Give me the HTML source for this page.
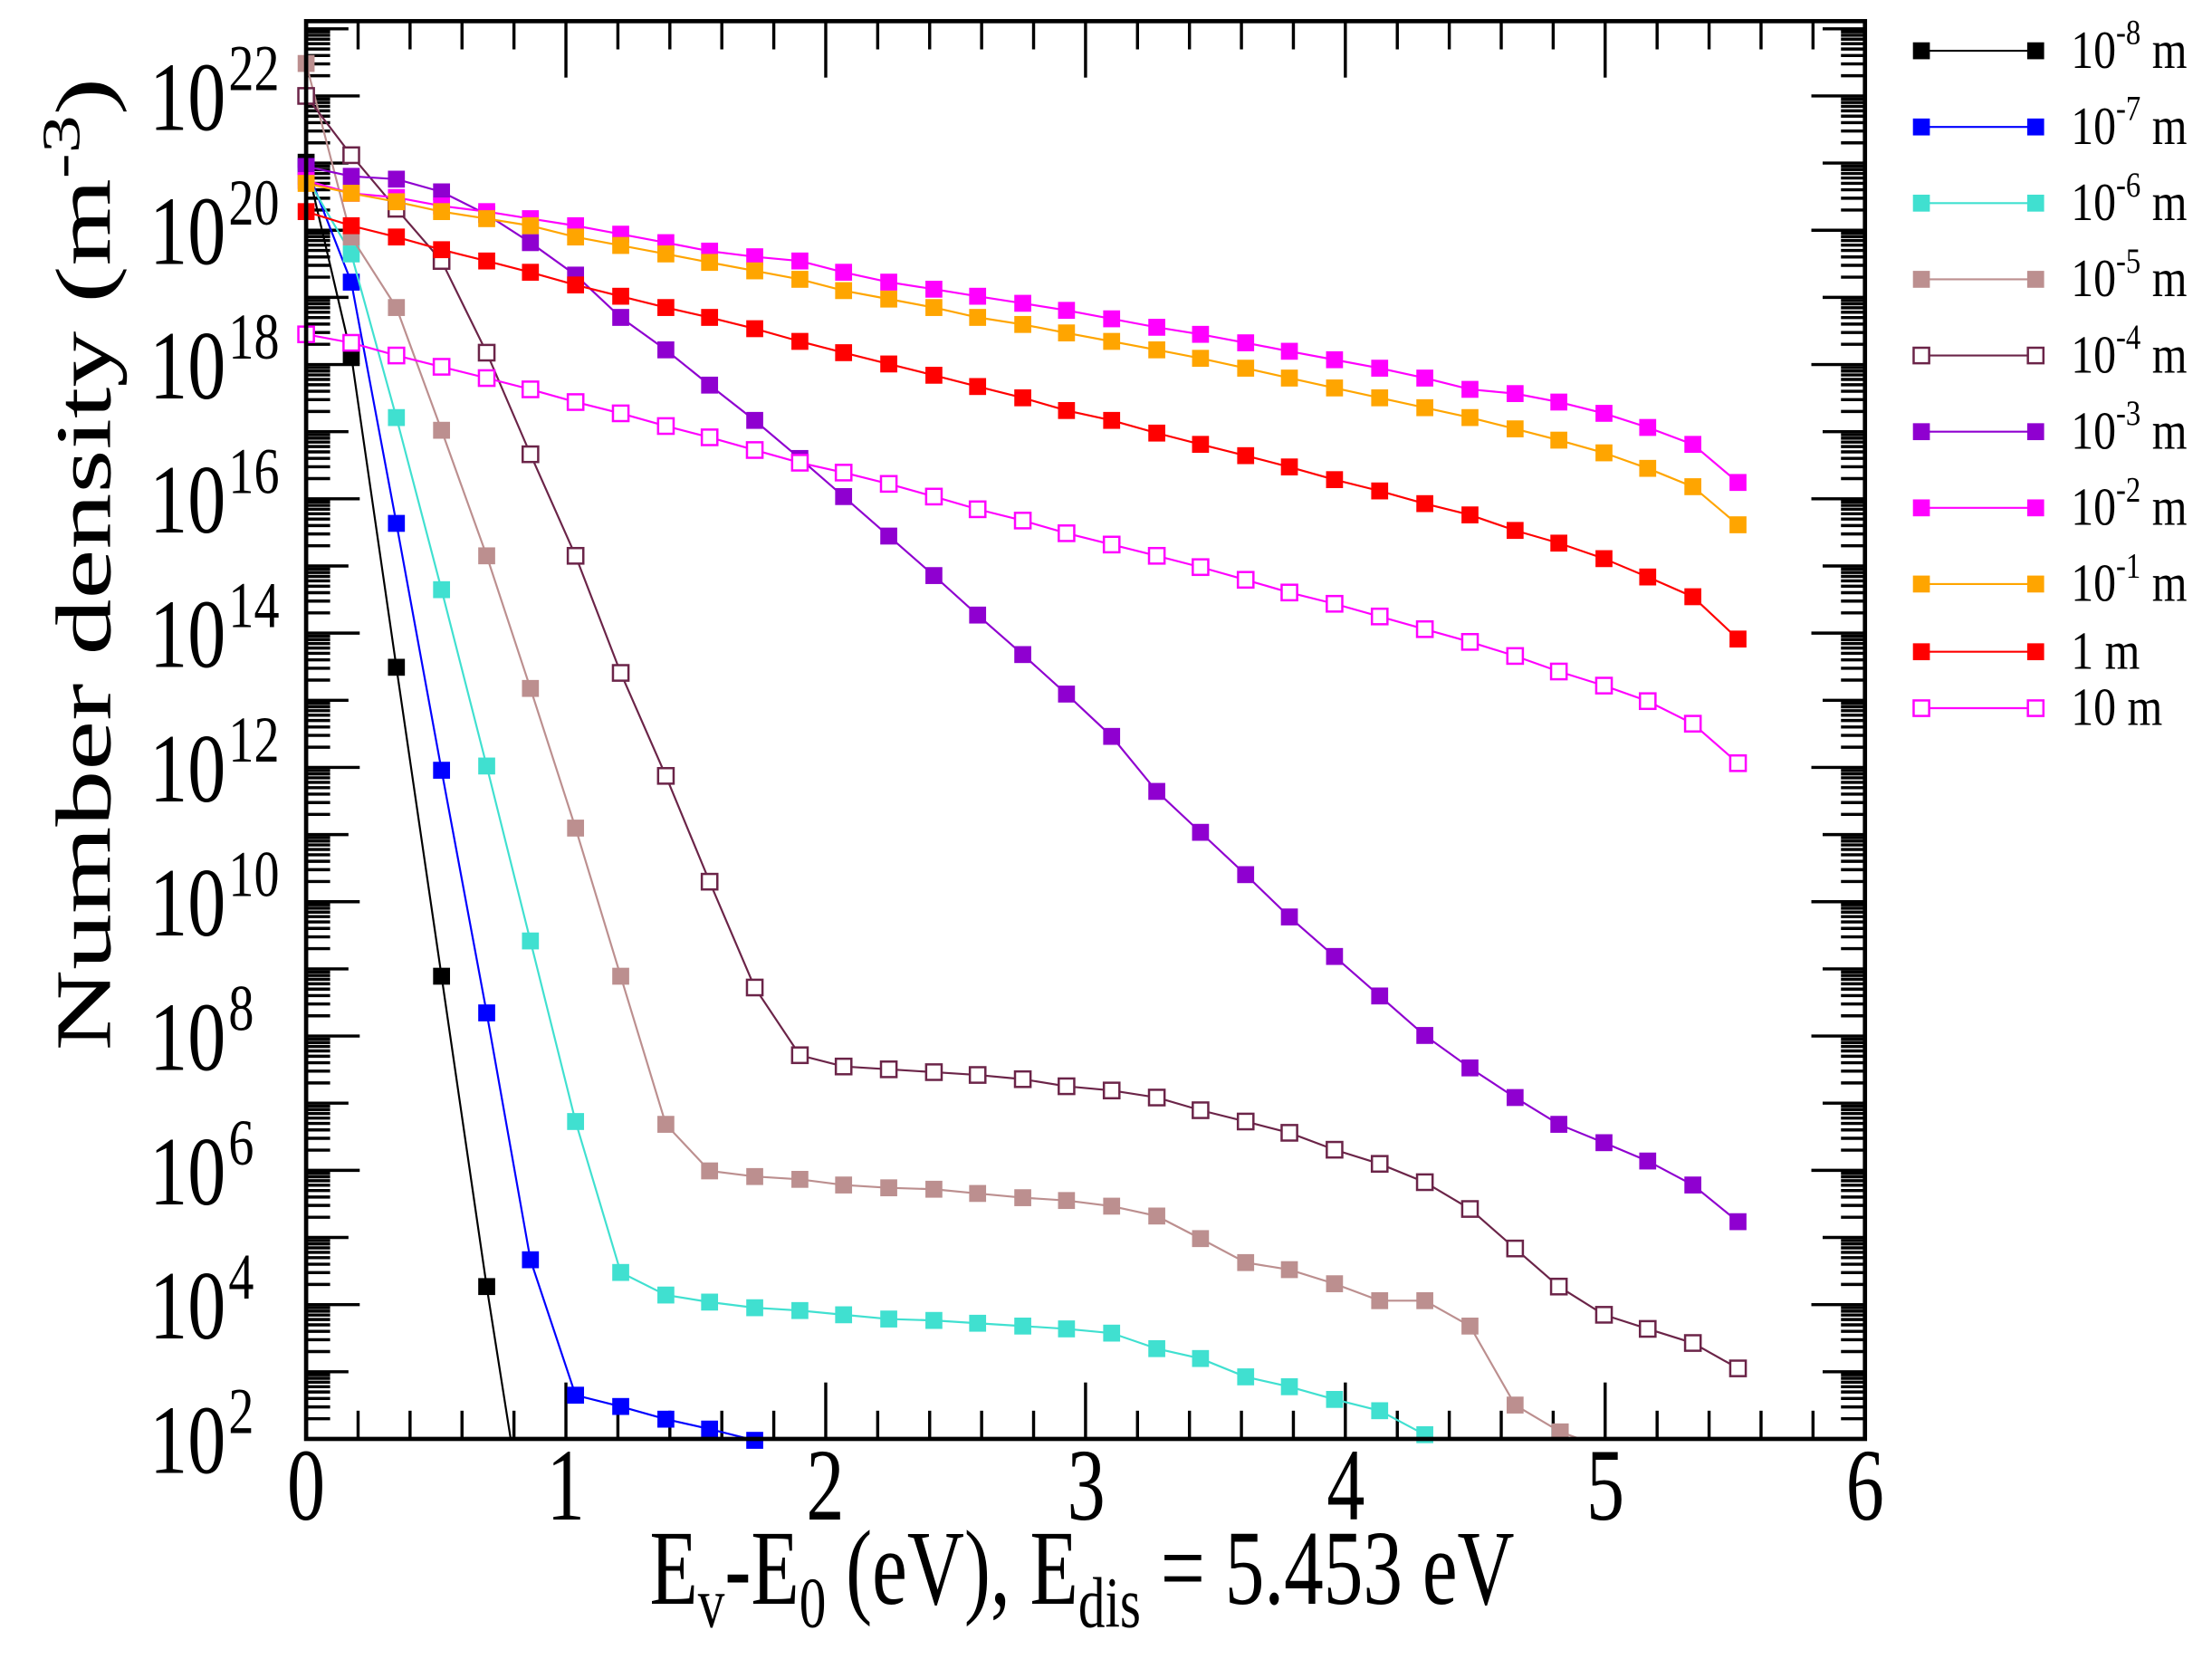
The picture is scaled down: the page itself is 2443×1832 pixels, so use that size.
<!DOCTYPE html>
<html><head><meta charset="utf-8"><style>
html,body{margin:0;padding:0;background:#fff;}
svg{display:block;}
text{font-family:"Liberation Serif",serif;fill:#000;}
</style></head><body>
<svg width="2443" height="1832" viewBox="0 0 1568 1176" preserveAspectRatio="none" xmlns="http://www.w3.org/2000/svg">
<rect width="1568" height="1176" fill="#fff"/>
<g id="ticks" stroke="#000" stroke-width="2.2" fill="none"></g>
<g id="series"></g>
<rect x="217" y="15" width="1105" height="1005" fill="none" stroke="#000" stroke-width="3"/>
<g id="labels"></g>
<g font-size="54" text-anchor="middle">
<text transform="translate(217,1077) scale(1,1.35)">0</text><text transform="translate(401,1077) scale(1,1.35)">1</text><text transform="translate(585,1077) scale(1,1.35)">2</text>
<text transform="translate(770,1077) scale(1,1.35)">3</text><text transform="translate(954,1077) scale(1,1.35)">4</text><text transform="translate(1138,1077) scale(1,1.35)">5</text><text transform="translate(1322,1077) scale(1,1.35)">6</text>
</g>
<text transform="translate(767,1137) scale(1,1.35)" font-size="56" text-anchor="middle">E<tspan font-size="38" dy="12">v</tspan><tspan dy="-12">-E</tspan><tspan font-size="38" dy="12">0</tspan><tspan dy="-12"> (eV), E</tspan><tspan font-size="38" dy="12">dis</tspan><tspan dy="-12"> = 5.453 eV</tspan></text>
<text transform="translate(78,400) rotate(-90) scale(1.42,1)" font-size="56" text-anchor="middle">Number density (m<tspan font-size="38" dy="-22">-3</tspan><tspan dy="22">)</tspan></text>
<g id="legend"></g>
</svg>
<script>
var NS="http://www.w3.org/2000/svg";
function el(p,t,a,txt){var e=document.createElementNS(NS,t);for(var k in a)e.setAttribute(k,a[k]);if(txt!=null)e.textContent=txt;p.appendChild(e);return e;}
var tk=document.getElementById('ticks');
var L=217,R=1322,T=15,B=1020,D=47.6;
for(var d=2;d<=23;d++){
  var y=B-(d-2)*D;
  if(y>=T){var len=(d%2==0)?38:30;
  el(tk,'line',{x1:L,y1:y,x2:L+len,y2:y});el(tk,'line',{x1:R,y1:y,x2:R-len,y2:y});}
  for(var m=2;m<=9;m++){var ym=y-Math.log10(m)*D;if(ym<T+1)continue;
  el(tk,'line',{x1:L,y1:ym,x2:L+17,y2:ym});el(tk,'line',{x1:R,y1:ym,x2:R-17,y2:ym});}
}
var U=(R-L)/6;
for(var i=0;i<=30;i++){var x=L+i*U/5;var len=(i%5==0)?40:20;
 el(tk,'line',{x1:x,y1:B,x2:x,y2:B-len});el(tk,'line',{x1:x,y1:T,x2:x,y2:T+len});}
var lb=document.getElementById('labels');
for(var d=2;d<=22;d+=2){var y=B-(d-2)*D;
 var g=el(lb,'g',{transform:'translate(0,'+(y+24)+') scale(1,1.28)'});
 el(g,'text',{x:160,y:0,'font-size':54,'text-anchor':'end'},'10');
 el(g,'text',{x:162,y:-22,'font-size':36},String(d));}
var S=[
 {c:'#000000',o:0,p:[[217,115],[249,252],[281,473],[313,692],[345,912]],ext:[[362,1020]]},
 {c:'#0000ff',o:0,p:[[217,118],[249,200],[281,371],[313,546],[345,718],[376,893],[408,989],[440,997],[472,1006],[503,1013],[535,1021]]},
 {c:'#40e0d0',o:0,p:[[217,125],[249,180],[281,296],[313,418],[345,543],[376,667],[408,795],[440,902],[472,918],[503,923],[535,927],[567,929],[598,932],[630,935],[662,936],[693,938],[725,940],[756,942],[788,945],[820,956],[851,963],[883,976],[914,983],[946,992],[978,1000],[1010,1017]]},
 {c:'#bc8f8f',o:0,p:[[217,45],[249,168],[281,218],[313,305],[345,394],[376,488],[408,587],[440,692],[472,797],[503,830],[535,834],[567,836],[598,840],[630,842],[662,843],[693,846],[725,849],[756,851],[788,855],[820,862],[851,878],[883,895],[914,900],[946,910],[978,922],[1010,922],[1042,940],[1074,996],[1106,1015]],ext:[[1120,1020]]},
 {c:'#6b2448',o:1,p:[[217,68],[249,110],[281,148],[313,185],[345,250],[376,322],[408,394],[440,477],[472,550],[503,625],[535,700],[567,748],[598,756],[630,758],[662,760],[693,762],[725,765],[756,770],[788,773],[820,778],[851,787],[883,795],[914,803],[946,815],[978,825],[1010,838],[1042,857],[1074,885],[1105,912],[1137,932],[1168,942],[1200,952],[1232,970]]},
 {c:'#8f00d0',o:0,p:[[217,118],[249,125],[281,127],[313,136],[345,152],[376,172],[408,195],[440,225],[472,248],[503,273],[535,298],[567,325],[598,352],[630,380],[662,408],[693,436],[725,464],[756,492],[788,522],[820,561],[851,590],[883,620],[914,650],[946,678],[978,706],[1010,734],[1042,757],[1074,778],[1105,797],[1137,810],[1168,823],[1200,840],[1232,866]]},
 {c:'#ff00ff',o:0,p:[[217,128],[249,137],[281,140],[313,146],[345,150],[376,155],[408,160],[440,166],[472,172],[503,178],[535,182],[567,185],[598,193],[630,200],[662,205],[693,210],[725,215],[756,220],[788,226],[820,232],[851,237],[883,243],[914,249],[946,255],[978,261],[1010,268],[1042,276],[1074,279],[1105,285],[1137,293],[1168,303],[1200,315],[1232,342]]},
 {c:'#ffa500',o:0,p:[[217,130],[249,137],[281,143],[313,150],[345,155],[376,160],[408,168],[440,174],[472,180],[503,186],[535,192],[567,198],[598,206],[630,212],[662,218],[693,225],[725,230],[756,236],[788,242],[820,248],[851,254],[883,261],[914,268],[946,275],[978,282],[1010,289],[1042,296],[1074,304],[1105,312],[1137,321],[1168,332],[1200,345],[1232,372]]},
 {c:'#ff0000',o:0,p:[[217,150],[249,160],[281,168],[313,177],[345,185],[376,193],[408,202],[440,210],[472,218],[503,225],[535,233],[567,242],[598,250],[630,258],[662,266],[693,274],[725,282],[756,291],[788,298],[820,307],[851,315],[883,323],[914,331],[946,340],[978,348],[1010,357],[1042,365],[1074,376],[1105,385],[1137,396],[1168,409],[1200,423],[1232,453]]},
 {c:'#ff00ff',o:1,p:[[217,237],[249,243],[281,252],[313,260],[345,268],[376,276],[408,285],[440,293],[472,302],[503,310],[535,319],[567,328],[598,335],[630,343],[662,352],[693,361],[725,369],[756,378],[788,386],[820,394],[851,402],[883,411],[914,420],[946,428],[978,437],[1010,446],[1042,455],[1074,465],[1105,476],[1137,486],[1168,497],[1200,513],[1232,541]]}
];
var sg=document.getElementById('series');
function mark(g,x,y,c,o){ if(o) el(g,'rect',{x:x-5.5,y:y-5.5,width:11,height:11,fill:'#fff',stroke:c,'stroke-width':1.6});
 else el(g,'rect',{x:x-6,y:y-6,width:12,height:12,fill:c});}
S.forEach(function(s){var pts=s.p.concat(s.ext||[]);
 el(sg,'polyline',{points:pts.map(function(a){return a.join(',')}).join(' '),fill:'none',stroke:s.c,'stroke-width':1.4});
 s.p.forEach(function(a){mark(sg,a[0],a[1],s.c,s.o);});});
var lg=document.getElementById('legend');
var labs=[['10','-8'],['10','-7'],['10','-6'],['10','-5'],['10','-4'],['10','-3'],['10','-2'],['10','-1'],['1 m',null],['10 m',null]];
var ys=[36,90,144,198,252,306,360,414,462,502];
S.forEach(function(s,i){var y=ys[i];
 el(lg,'line',{x1:1362,y1:y,x2:1443,y2:y,stroke:s.c,'stroke-width':1.4});
 mark(lg,1362,y,s.c,s.o);mark(lg,1443,y,s.c,s.o);
 var g=el(lg,'g',{transform:'translate(1468,'+(y+12)+') scale(1,1.2)'});
 var t=el(g,'text',{x:0,y:0,'font-size':32},labs[i][0]);
 if(labs[i][1]){el(t,'tspan',{'font-size':21,dy:-14},labs[i][1]);el(t,'tspan',{dy:14},' m');}
});
</script>
</body></html>
